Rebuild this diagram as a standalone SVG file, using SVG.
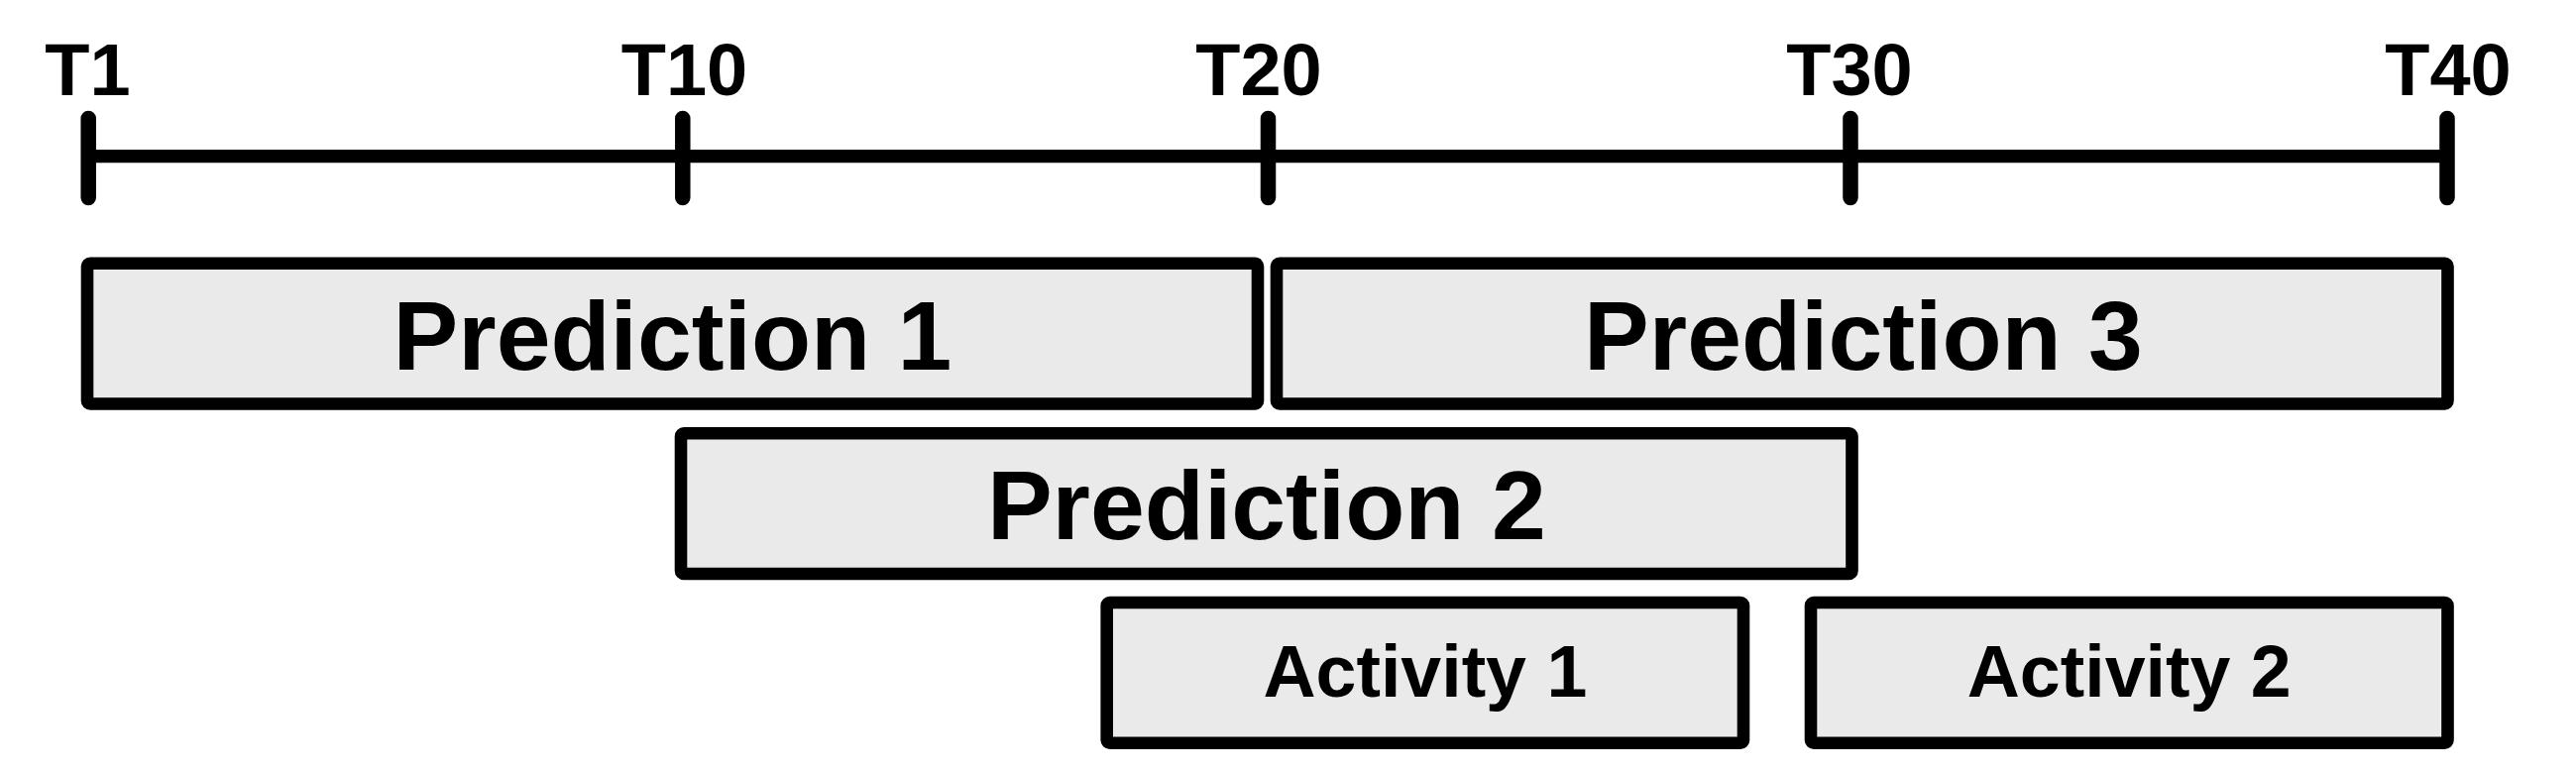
<svg xmlns="http://www.w3.org/2000/svg" width="2599" height="780" viewBox="0 0 2599 780">
  <style>
    .box { fill: #EAEAEA; stroke: #000; stroke-width: 12.6; }
    .tick { stroke: #000; stroke-width: 15.5; stroke-linecap: round; fill: none; }
    .axis { stroke: #000; stroke-width: 13.3; fill: none; }
    .tl { font-family: "Liberation Sans", Arial, sans-serif; font-weight: bold; font-size: 74px; text-anchor: middle; fill: #000; }
    .pl { font-family: "Liberation Sans", Arial, sans-serif; font-weight: bold; font-size: 98.5px; text-anchor: middle; fill: #000; }
    .al { font-family: "Liberation Sans", Arial, sans-serif; font-weight: bold; font-size: 73.5px; text-anchor: middle; fill: #000; }
  </style>
  <rect width="2599" height="780" fill="#fff"/>
  <g id="timeline">
    <line class="axis" x1="89" y1="157.7" x2="2469" y2="157.7"/>
    <line class="tick" x1="89.2" y1="119.5" x2="89.2" y2="199.5"/>
    <line class="tick" x1="688.8" y1="119.5" x2="688.8" y2="199.5"/>
    <line class="tick" x1="1279.5" y1="119.5" x2="1279.5" y2="199.5"/>
    <line class="tick" x1="1867" y1="119.5" x2="1867" y2="199.5"/>
    <line class="tick" x1="2469" y1="119.5" x2="2469" y2="199.5"/>
    <text class="tl" x="88.5" y="95.7">T1</text>
    <text class="tl" x="690.5" y="95.7">T10</text>
    <text class="tl" x="1270" y="95.7">T20</text>
    <text class="tl" x="1866" y="95.7">T30</text>
    <text class="tl" x="2470" y="95.7">T40</text>
  </g>
  <g id="connectors"></g>
  <g id="prediction1">
    <rect class="box" x="88" y="265.8" width="1181" height="141.7" rx="3"/>
    <text class="pl" x="678.5" y="373">Prediction 1</text>
  </g>
  <g id="prediction3">
    <rect class="box" x="1288" y="265.8" width="1181.5" height="141.7" rx="3"/>
    <text class="pl" x="1880" y="373">Prediction 3</text>
  </g>
  <g id="prediction2">
    <rect class="box" x="687" y="437.3" width="1181.5" height="141.7" rx="3"/>
    <text class="pl" x="1277.8" y="544.3">Prediction 2</text>
  </g>
  <g id="activity1">
    <rect class="box" x="1116.7" y="608" width="642.3" height="141.7" rx="3"/>
    <text class="al" x="1437.9" y="703.3">Activity 1</text>
  </g>
  <g id="activity2">
    <rect class="box" x="1827" y="608" width="642.5" height="141.7" rx="3"/>
    <text class="al" x="2148.2" y="703.3">Activity 2</text>
  </g>
</svg>
